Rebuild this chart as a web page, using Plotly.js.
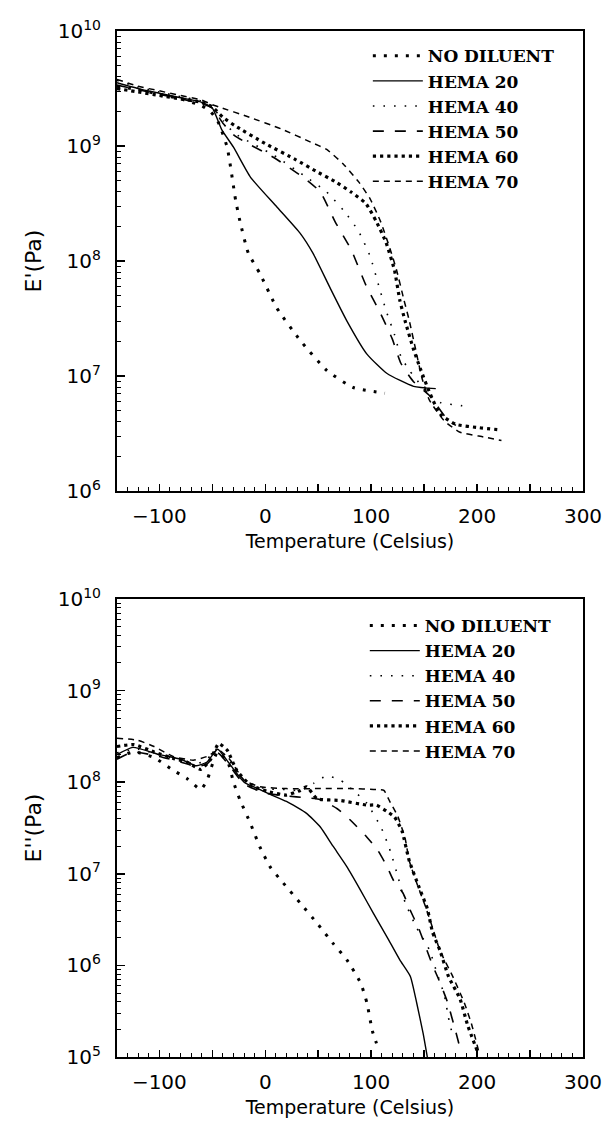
<!DOCTYPE html>
<html>
<head>
<meta charset="utf-8">
<script src="https://cdn.plot.ly/plotly-3.0.1.min.js"></script>
<style>html,body{margin:0;padding:0;background:#fff;}</style>
</head>
<body>
<div id="chart" style="width:608px;height:1125px;"></div>
<script>
// ---------- Data: storage modulus E' (Pa) vs temperature (Celsius) ----------
const seriesNames = ["NO DILUENT", "HEMA 20", "HEMA 40", "HEMA 50", "HEMA 60", "HEMA 70"];

const storNoDilT = [-140,-120,-100,-80,-60,-52,-45,-36,-28,-24,-16,-5,11,33,58,83,113];
const storNoDilE = [3.31e9,3.09e9,2.82e9,2.57e9,2.24e9,2.0e9,1.66e9,9.77e8,3.39e8,2.24e8,1.17e8,7.76e7,3.89e7,2.04e7,1.12e7,7.94e6,7.08e6];

const storH20T = [-140,-120,-100,-80,-60,-50,-41,-30,-14,11,33,45,61,77,96,115,140,161];
const storH20E = [3.55e9,3.16e9,2.88e9,2.63e9,2.40e9,2.14e9,1.38e9,9.77e8,5.37e8,2.95e8,1.74e8,1.17e8,5.89e7,3.02e7,1.55e7,1.05e7,8.13e6,7.76e6];

const storH40T = [-140,-120,-100,-80,-60,-50,-40,-29,8,37,58,74,88,99,107,114,122,128,136,147,155,165,186];
const storH40E = [3.72e9,3.24e9,2.95e9,2.69e9,2.45e9,2.19e9,1.66e9,1.29e9,8.32e8,5.50e8,3.98e8,2.75e8,1.82e8,1.10e8,6.17e7,3.72e7,2.29e7,1.48e7,1.12e7,8.32e6,6.76e6,5.89e6,5.50e6];

const storH50T = [-140,-120,-100,-80,-60,-50,-40,-29,8,37,52,66,81,95,109,120,128,140,155,173,180];
const storH50E = [3.39e9,3.09e9,2.82e9,2.57e9,2.34e9,2.14e9,1.58e9,1.23e9,7.94e8,5.25e8,3.98e8,2.19e8,1.26e8,6.17e7,3.47e7,2.09e7,1.29e7,8.91e6,6.76e6,4.07e6,3.72e6];

const storH60T = [-140,-120,-100,-80,-60,-50,-40,-29,0,29,48,66,81,95,105,114,122,127,132,140,147,155,165,180,202,223];
const storH60E = [3.16e9,2.95e9,2.75e9,2.57e9,2.40e9,2.19e9,1.78e9,1.51e9,1.05e9,7.59e8,6.03e8,4.90e8,3.98e8,3.16e8,2.19e8,1.45e8,8.32e7,4.57e7,3.02e7,1.70e7,1.12e7,7.24e6,4.68e6,3.80e6,3.55e6,3.39e6];

const storH70T = [-140,-120,-100,-80,-60,-50,-44,-15,15,44,58,74,88,99,109,118,124,131,136,142,148,155,169,184,206,223];
const storH70E = [3.80e9,3.31e9,3.02e9,2.75e9,2.51e9,2.29e9,2.19e9,1.78e9,1.41e9,1.07e9,9.33e8,6.92e8,4.90e8,3.47e8,2.19e8,1.26e8,8.32e7,4.57e7,3.02e7,1.70e7,9.55e6,6.17e6,4.07e6,3.24e6,2.95e6,2.75e6];

// ---------- Data: loss modulus E'' (Pa) vs temperature (Celsius) ----------
const lossNoDilT = [-140,-124,-105,-87,-74,-61,-55,-45,-35,-30,-24,-14,-5,5,17,33,49,64,77,90,96,101,105];
const lossNoDilE = [1.86e8,2.14e8,1.86e8,1.35e8,1.10e8,8.32e7,1.05e8,2.14e8,1.62e8,1.0e8,6.46e7,3.55e7,1.95e7,1.17e7,7.94e6,4.79e6,2.88e6,1.74e6,1.15e6,6.46e5,3.89e5,1.95e5,1.41e5];

const lossH20T = [-140,-125,-100,-80,-65,-55,-45,-35,-20,-5,2,20,39,52,64,77,90,102,115,127,137,143,149,153];
const lossH20E = [2.0e8,2.40e8,2.0e8,1.78e8,1.51e8,1.66e8,2.29e8,1.66e8,1.0e8,8.32e7,7.59e7,6.17e7,4.57e7,3.24e7,2.0e7,1.20e7,6.61e6,3.72e6,2.04e6,1.15e6,7.59e5,3.89e5,1.82e5,1.0e5];

const lossH40T = [-140,-120,-100,-80,-65,-55,-45,-35,-20,0,20,33,46,58,71,83,96,110,118,125,132,143,155,162,169,173,177];
const lossH40E = [2.09e8,2.29e8,2.0e8,1.74e8,1.58e8,1.78e8,2.34e8,1.78e8,1.05e8,8.51e7,8.32e7,8.13e7,9.77e7,1.17e8,1.05e8,8.13e7,5.89e7,3.09e7,1.78e7,9.55e6,4.90e6,2.57e6,1.48e6,8.32e5,4.79e5,2.69e5,1.70e5];

const lossH50T = [-140,-125,-100,-80,-65,-55,-45,-35,-20,0,20,39,52,68,80,96,106,115,121,130,137,145,158,164,172,180,185];
const lossH50E = [1.78e8,2.14e8,1.91e8,1.66e8,1.48e8,1.58e8,2.09e8,1.58e8,9.55e7,7.59e7,7.08e7,6.76e7,6.46e7,5.13e7,3.89e7,2.51e7,1.82e7,1.20e7,8.51e6,6.17e6,3.98e6,2.51e6,1.0e6,6.92e5,3.98e5,1.86e5,1.12e5];

const lossH60T = [-140,-124,-105,-87,-74,-61,-52,-44,-36,-27,-14,2,20,33,39,49,71,96,105,115,122,129,136,145,153,158,165,173,184,191,201];
const lossH60E = [2.45e8,2.57e8,2.14e8,1.82e8,1.66e8,1.38e8,1.74e8,2.63e8,2.24e8,1.35e8,9.33e7,7.94e7,7.24e7,8.13e7,8.91e7,6.61e7,6.31e7,5.62e7,5.62e7,4.79e7,4.17e7,2.95e7,1.38e7,7.24e6,4.17e6,2.29e6,1.45e6,7.59e5,4.27e5,2.24e5,1.10e5];

const lossH70T = [-140,-121,-105,-87,-68,-55,-44,-33,-20,-5,20,50,80,105,112,118,125,132,136,143,151,158,165,177,188,195,202];
const lossH70E = [3.02e8,2.88e8,2.45e8,1.91e8,1.74e8,1.91e8,2.24e8,1.74e8,1.05e8,8.91e7,8.51e7,8.51e7,8.51e7,8.32e7,8.13e7,6.03e7,4.27e7,2.45e7,1.38e7,7.94e6,4.47e6,2.57e6,1.45e6,7.59e5,3.89e5,2.24e5,1.10e5];

// axis ticks and labels
const xTickVals = [-100, -50, 0, 50, 100, 150, 200, 250, 300];
const xTickText = ["\u2212100", "", "0", "", "100", "", "200", "", "300"];
const topYTickVals = [1e6, 1e7, 1e8, 1e9, 1e10];
const topYTickText = ["10<sup>6</sup>", "10<sup>7</sup>", "10<sup>8</sup>", "10<sup>9</sup>", "10<sup>10</sup>"];
const botYTickVals = [1e5, 1e6, 1e7, 1e8, 1e9, 1e10];
const botYTickText = ["10<sup>5</sup>", "10<sup>6</sup>", "10<sup>7</sup>", "10<sup>8</sup>", "10<sup>9</sup>", "10<sup>10</sup>"];
const minorMultipliers = [2, 3, 4, 5, 6, 7, 8, 9];

// minor tick positions derived from the decade ticks
function minorLogTicks(decades) {
  const out = [];
  decades.forEach(d => minorMultipliers.forEach(m => out.push(d * m)));
  return out;
}

// ---------- Styles ----------
const lineStyles = [
  {color: "#000", width: 3,   dash: "3px,8px"},   // NO DILUENT
  {color: "#000", width: 1.4, dash: "solid"},     // HEMA 20
  {color: "#000", width: 1.6, dash: "1.6px,9px"}, // HEMA 40
  {color: "#000", width: 1.6, dash: "11px,11px"}, // HEMA 50
  {color: "#000", width: 3.2, dash: "3.2px,4px"}, // HEMA 60
  {color: "#000", width: 1.5, dash: "6px,5px"}    // HEMA 70
];

const storT = [storNoDilT, storH20T, storH40T, storH50T, storH60T, storH70T];
const storE = [storNoDilE, storH20E, storH40E, storH50E, storH60E, storH70E];
const lossT = [lossNoDilT, lossH20T, lossH40T, lossH50T, lossH60T, lossH70T];
const lossE = [lossNoDilE, lossH20E, lossH40E, lossH50E, lossH60E, lossH70E];

const traces = [];
seriesNames.forEach((name, i) => {
  traces.push({x: storT[i], y: storE[i], name: name, type: "scatter", mode: "lines",
    line: Object.assign({shape: "spline", smoothing: 0.5}, lineStyles[i]),
    xaxis: "x", yaxis: "y", legend: "legend"});
});
seriesNames.forEach((name, i) => {
  traces.push({x: lossT[i], y: lossE[i], name: name, type: "scatter", mode: "lines",
    line: Object.assign({shape: "spline", smoothing: 0.5}, lineStyles[i]),
    xaxis: "x2", yaxis: "y2", legend: "legend2"});
});

const tickFont = {family: "DejaVu Sans, sans-serif", size: 20, color: "#000"};
const titleFont = {family: "DejaVu Sans, sans-serif", size: 19, color: "#000"};
const yTitleFont = {family: "DejaVu Sans, sans-serif", size: 22, color: "#000"};
const legFont = {family: "DejaVu Serif, serif", size: 17, color: "#000", weight: "bold"};

function xAxis(anchor) {
  return {
    anchor: anchor, domain: [0.1924, 0.9589], range: [-140, 300],
    tickmode: "array", tickvals: xTickVals, ticktext: xTickText,
    ticks: "inside", ticklen: 7, tickwidth: 1.5, tickcolor: "#000",
    minor: {ticks: "inside", ticklen: 4, tickwidth: 1, tickmode: "linear", dtick: 10, tick0: 0, tickcolor: "#000"},
    showline: true, linewidth: 2, linecolor: "#000", mirror: true,
    showgrid: false, zeroline: false,
    tickfont: tickFont, ticklabelstandoff: 6,
    title: {text: "Temperature (Celsius)", font: titleFont, standoff: 8}
  };
}
function yAxis(anchor, dom, rng, tv, tt, ttl) {
  return {
    anchor: anchor, domain: dom, type: "log", range: rng,
    tickmode: "array", tickvals: tv, ticktext: tt,
    ticks: "inside", ticklen: 8, tickwidth: 1.5, tickcolor: "#000",
    minor: {ticks: "inside", ticklen: 4, tickwidth: 1, tickmode: "array",
            tickvals: minorLogTicks(tv), tickcolor: "#000"},
    showline: true, linewidth: 2, linecolor: "#000", mirror: true,
    showgrid: false, zeroline: false,
    tickfont: tickFont, ticklabelstandoff: 10,
    title: {text: ttl, font: yTitleFont, standoff: 10}
  };
}

const layout = {
  width: 608, height: 1125,
  margin: {l: 0, r: 0, t: 0, b: 0},
  paper_bgcolor: "#fff", plot_bgcolor: "#fff",
  xaxis: xAxis("y"),
  yaxis: yAxis("x", [0.5636, 0.9724], [6, 10], topYTickVals, topYTickText, "E'(Pa)"),
  xaxis2: xAxis("y2"),
  yaxis2: yAxis("x2", [0.0604, 0.4676], [5, 10], botYTickVals, botYTickText, "E''(Pa)"),
  legend: {x: 0.605, y: 0.966, xanchor: "left", yanchor: "top", bgcolor: "rgba(0,0,0,0)",
           font: legFont, itemwidth: 50, tracegroupgap: 0},
  legend2: {x: 0.6, y: 0.4596, xanchor: "left", yanchor: "top", bgcolor: "rgba(0,0,0,0)",
           font: legFont, itemwidth: 50, tracegroupgap: 0},
  showlegend: true
};

Plotly.newPlot("chart", traces, layout, {displayModeBar: false, staticPlot: true});
</script>
</body>
</html>
